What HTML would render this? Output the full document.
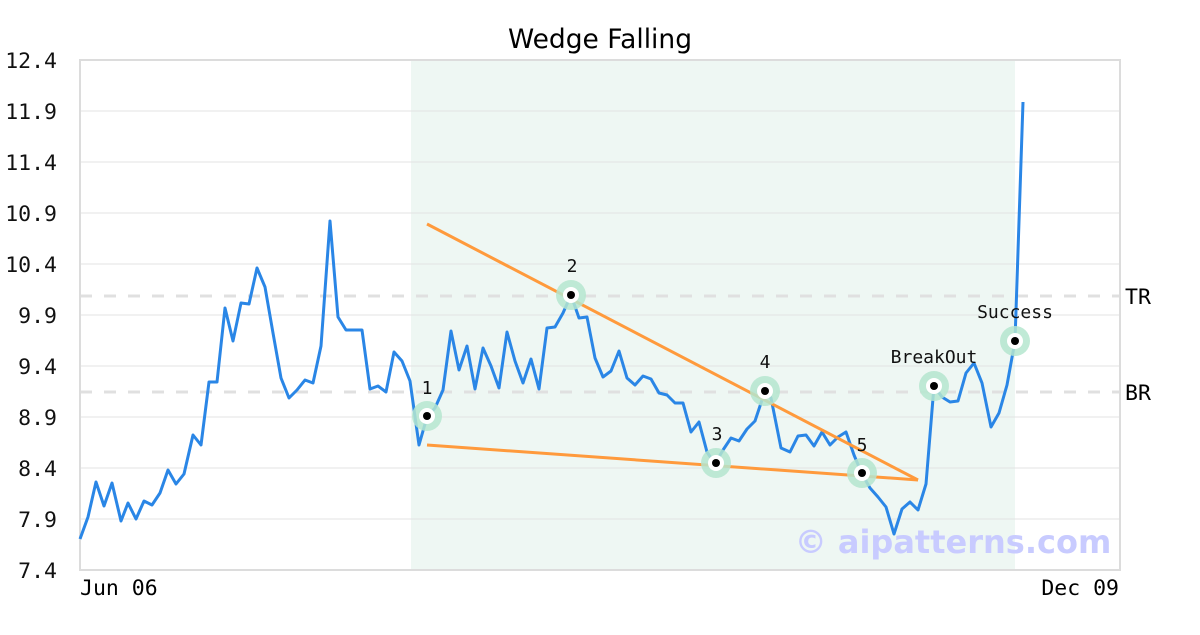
<!DOCTYPE html>
<html><head><meta charset="utf-8"><style>
body{margin:0;background:#fff}
svg text{font-family:"DejaVu Sans Mono","Liberation Mono",monospace}
</style></head><body>
<svg width="1200" height="630" viewBox="0 0 1200 630" xmlns="http://www.w3.org/2000/svg">
<rect width="1200" height="630" fill="#fff"/>
<rect x="411" y="61" width="604" height="508" fill="#eef7f3"/>
<g stroke="#e3e3e3" stroke-width="1">
<line x1="80" x2="1120" y1="111" y2="111"/><line x1="80" x2="1120" y1="162" y2="162"/>
<line x1="80" x2="1120" y1="213" y2="213"/><line x1="80" x2="1120" y1="264" y2="264"/>
<line x1="80" x2="1120" y1="315" y2="315"/><line x1="80" x2="1120" y1="366" y2="366"/>
<line x1="80" x2="1120" y1="417" y2="417"/><line x1="80" x2="1120" y1="468" y2="468"/>
<line x1="80" x2="1120" y1="519" y2="519"/>
</g>
<g stroke="#e0e0e0" stroke-width="3" stroke-dasharray="12,12">
<line x1="80" x2="1120" y1="296" y2="296"/><line x1="80" x2="1120" y1="392" y2="392"/>
</g>
<rect x="80" y="60" width="1040" height="510" fill="none" stroke="#dcdcdc" stroke-width="2"/>
<text x="600" y="48" font-size="26.5" text-anchor="middle" style="font-family:'DejaVu Sans',sans-serif">Wedge Falling</text>
<g font-size="21.5" text-anchor="end" fill="#111">
<text x="57" y="68">12.4</text><text x="57" y="119">11.9</text><text x="57" y="170">11.4</text>
<text x="57" y="221">10.9</text><text x="57" y="272">10.4</text><text x="57" y="323">9.9</text>
<text x="57" y="374">9.4</text><text x="57" y="425">8.9</text><text x="57" y="476">8.4</text>
<text x="57" y="527">7.9</text><text x="57" y="578">7.4</text>
</g>
<text x="80" y="595" font-size="21.5">Jun 06</text>
<text x="1119" y="595" font-size="21.5" text-anchor="end">Dec 09</text>
<text x="1125" y="304" font-size="21.5">TR</text>
<text x="1125" y="400" font-size="21.5">BR</text>
<text x="953" y="553" font-size="32" font-weight="bold" text-anchor="middle" fill="#c8cbff" style="font-family:'DejaVu Sans',sans-serif">© aipatterns.com</text>
<polyline fill="none" stroke="#2a86e6" stroke-width="3" stroke-linejoin="round" points="80,539 88,517 96,482 104,506 112,483 121,521 128,503 136,519 144,501 152,505 160,493 168,470 176,484 184,474 193,435 201,445 209,382 217,382 225,308 233,341 241,303 249,304 257,268 265,287 273,333 281,378 289,398 297,390 305,380 313,383 321,346 330,221 338,317 346,330 354,330 362,330 370,389 378,386 386,392 394,352 402,361 410,381 419,445 427,417 435,408 443,390 451,331 459,370 467,346 475,389 483,348 491,366 499,388 507,332 515,361 523,383 531,359 539,389 547,328 555,327 563,313 571,295 579,318 587,317 595,358 603,377 611,371 619,351 627,378 635,385 643,376 651,379 659,393 667,395 675,403 683,403 691,432 699,422 707,452 715,464 723,450 731,438 739,441 747,429 755,421 765,391 771,398 781,448 790,452 798,436 806,435 814,446 822,432 830,445 838,437 846,432 854,455 862,474 870,488 878,497 886,507 894,534 902,509 910,502 918,510 926,484 934,386 942,397 950,402 958,401 966,373 974,363 982,383 991,427 999,413 1007,385 1015,341 1023,102"/>
<g stroke="#ff9a3c" stroke-width="3">
<line x1="427" y1="224" x2="918" y2="480"/><line x1="427" y1="445" x2="918" y2="480"/>
</g>
<g>
<g fill="#b5e6cf" opacity="0.85">
<circle cx="427" cy="416" r="15"/><circle cx="571" cy="295" r="15"/><circle cx="716" cy="463" r="15"/>
<circle cx="765" cy="391" r="15"/><circle cx="862" cy="473" r="15"/><circle cx="934" cy="386" r="15"/><circle cx="1015" cy="341" r="15"/>
</g>
<g fill="#fff">
<circle cx="427" cy="416" r="8"/><circle cx="571" cy="295" r="8"/><circle cx="716" cy="463" r="8"/>
<circle cx="765" cy="391" r="8"/><circle cx="862" cy="473" r="8"/><circle cx="934" cy="386" r="8"/><circle cx="1015" cy="341" r="8"/>
</g>
<g fill="#000">
<circle cx="427" cy="416" r="4"/><circle cx="571" cy="295" r="4"/><circle cx="716" cy="463" r="4"/>
<circle cx="765" cy="391" r="4"/><circle cx="862" cy="473" r="4"/><circle cx="934" cy="386" r="4"/><circle cx="1015" cy="341" r="4"/>
</g>
</g>
<g font-size="18" text-anchor="middle" fill="#111">
<text x="427" y="394">1</text><text x="572" y="272">2</text><text x="717" y="440">3</text>
<text x="765" y="368">4</text><text x="862" y="451">5</text><text x="934" y="363">BreakOut</text><text x="1015" y="318">Success</text>
</g>
</svg>
</body></html>
